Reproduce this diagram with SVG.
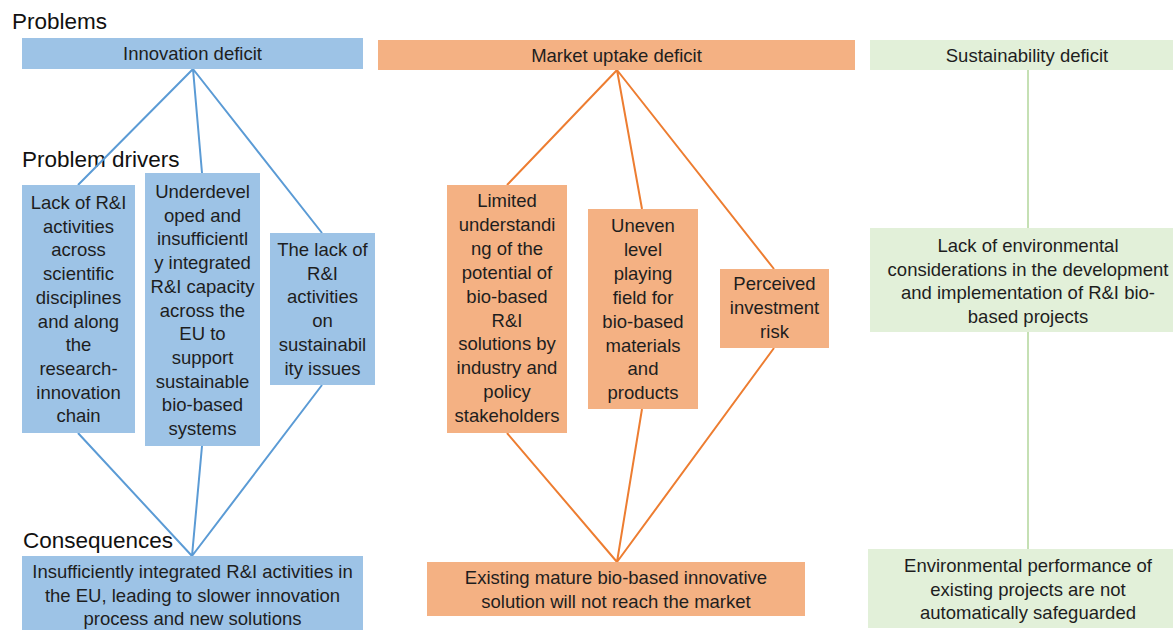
<svg xmlns="http://www.w3.org/2000/svg" width="1173" height="630" viewBox="0 0 1173 630">
<style>
text{font-family:"Liberation Sans",Arial,sans-serif;fill:#1e1e1e}
.t{font-size:18.5px;text-anchor:middle}
.h{font-size:22.5px;fill:#111}
.b{fill:#9dc3e6}
.o{fill:#f4b183}
.g{fill:#e2f0d9}
.lb{stroke:#5b9bd5;stroke-width:2;fill:none}
.lo{stroke:#ed7d31;stroke-width:2;fill:none}
.lg{stroke:#c5e0b4;stroke-width:2;fill:none}
</style>
<rect width="1173" height="630" fill="#fff"/>
<g id="headings">
<text class="h" x="12" y="29">Problems</text>
<text class="h" x="22" y="167">Problem drivers</text>
<text class="h" x="23" y="548">Consequences</text>
</g>
<g id="connectors">
<path class="lb" d="M193,69L78,185M193,69L202,173M193,69L322,233M78,433L192,556M202,446L192,556M322,385L192,556"/>
<path class="lo" d="M617,70L507,185M617,70L642,209M617,70L774,269M507,433L617,562M642,409L617,562M774,348L617,562"/>
<path class="lg" d="M1028,70L1028,228M1028,332L1028,549"/>
</g>
<g id="innovation-deficit">
<rect class="b" x="22" y="38" width="341" height="31"/>
<text class="t" x="192.5" y="60">Innovation deficit</text>
</g>
<g id="driver-b1">
<rect class="b" x="22" y="185" width="113" height="248"/>
<text class="t" x="78.5" y="209">Lack of R&amp;I<tspan x="78.5" dy="23.7">activities</tspan><tspan x="78.5" dy="23.7">across</tspan><tspan x="78.5" dy="23.7">scientific</tspan><tspan x="78.5" dy="23.7">disciplines</tspan><tspan x="78.5" dy="23.7">and along</tspan><tspan x="78.5" dy="23.7">the</tspan><tspan x="78.5" dy="23.7">research-</tspan><tspan x="78.5" dy="23.7">innovation</tspan><tspan x="78.5" dy="23.7">chain</tspan></text>
</g>
<g id="driver-b2">
<rect class="b" x="145" y="173" width="115" height="273"/>
<text class="t" x="202.5" y="198">Underdevel<tspan x="202.5" dy="23.7">oped and</tspan><tspan x="202.5" dy="23.7">insufficientl</tspan><tspan x="202.5" dy="23.7">y integrated</tspan><tspan x="202.5" dy="23.7">R&amp;I capacity</tspan><tspan x="202.5" dy="23.7">across the</tspan><tspan x="202.5" dy="23.7">EU to</tspan><tspan x="202.5" dy="23.7">support</tspan><tspan x="202.5" dy="23.7">sustainable</tspan><tspan x="202.5" dy="23.7">bio-based</tspan><tspan x="202.5" dy="23.7">systems</tspan></text>
</g>
<g id="driver-b3">
<rect class="b" x="270" y="233" width="105" height="152"/>
<text class="t" x="322.5" y="256">The lack of<tspan x="322.5" dy="23.7">R&amp;I</tspan><tspan x="322.5" dy="23.7">activities</tspan><tspan x="322.5" dy="23.7">on</tspan><tspan x="322.5" dy="23.7">sustainabil</tspan><tspan x="322.5" dy="23.7">ity issues</tspan></text>
</g>
<g id="consequence-b">
<rect class="b" x="22" y="556" width="341" height="74"/>
<text class="t" x="192.5" y="578">Insufficiently integrated R&amp;I activities in<tspan x="192.5" dy="23.7">the EU, leading to slower innovation</tspan><tspan x="192.5" dy="23.7">process and new solutions</tspan></text>
</g>
<g id="market-uptake-deficit">
<rect class="o" x="378" y="40" width="477" height="30"/>
<text class="t" x="616.5" y="62">Market uptake deficit</text>
</g>
<g id="driver-o1">
<rect class="o" x="447" y="185" width="120" height="248"/>
<text class="t" x="507" y="207">Limited<tspan x="507" dy="23.9">understandi</tspan><tspan x="507" dy="23.9">ng of the</tspan><tspan x="507" dy="23.9">potential of</tspan><tspan x="507" dy="23.9">bio-based</tspan><tspan x="507" dy="23.9">R&amp;I</tspan><tspan x="507" dy="23.9">solutions by</tspan><tspan x="507" dy="23.9">industry and</tspan><tspan x="507" dy="23.9">policy</tspan><tspan x="507" dy="23.9">stakeholders</tspan></text>
</g>
<g id="driver-o2">
<rect class="o" x="588" y="209" width="110" height="200"/>
<text class="t" x="643" y="232">Uneven<tspan x="643" dy="23.9">level</tspan><tspan x="643" dy="23.9">playing</tspan><tspan x="643" dy="23.9">field for</tspan><tspan x="643" dy="23.9">bio-based</tspan><tspan x="643" dy="23.9">materials</tspan><tspan x="643" dy="23.9">and</tspan><tspan x="643" dy="23.9">products</tspan></text>
</g>
<g id="driver-o3">
<rect class="o" x="720" y="269" width="109" height="79"/>
<text class="t" x="774.5" y="290">Perceived<tspan x="774.5" dy="23.9">investment</tspan><tspan x="774.5" dy="23.9">risk</tspan></text>
</g>
<g id="consequence-o">
<rect class="o" x="427" y="562" width="378" height="54"/>
<text class="t" x="616" y="584">Existing mature bio-based innovative<tspan x="616" dy="23.5">solution will not reach the market</tspan></text>
</g>
<g id="sustainability-deficit">
<rect class="g" x="870" y="40" width="303" height="30"/>
<text class="t" x="1027" y="62">Sustainability deficit</text>
</g>
<g id="driver-g">
<rect class="g" x="870" y="228" width="303" height="104"/>
<text class="t" x="1028" y="252">Lack of environmental<tspan x="1028" dy="23.5">considerations in the development</tspan><tspan x="1028" dy="23.5">and implementation of R&amp;I bio-</tspan><tspan x="1028" dy="23.5">based projects</tspan></text>
</g>
<g id="consequence-g">
<rect class="g" x="868" y="549" width="305" height="79"/>
<text class="t" x="1028" y="572">Environmental performance of<tspan x="1028" dy="23.5">existing projects are not</tspan><tspan x="1028" dy="23.5">automatically safeguarded</tspan></text>
</g>
</svg>
